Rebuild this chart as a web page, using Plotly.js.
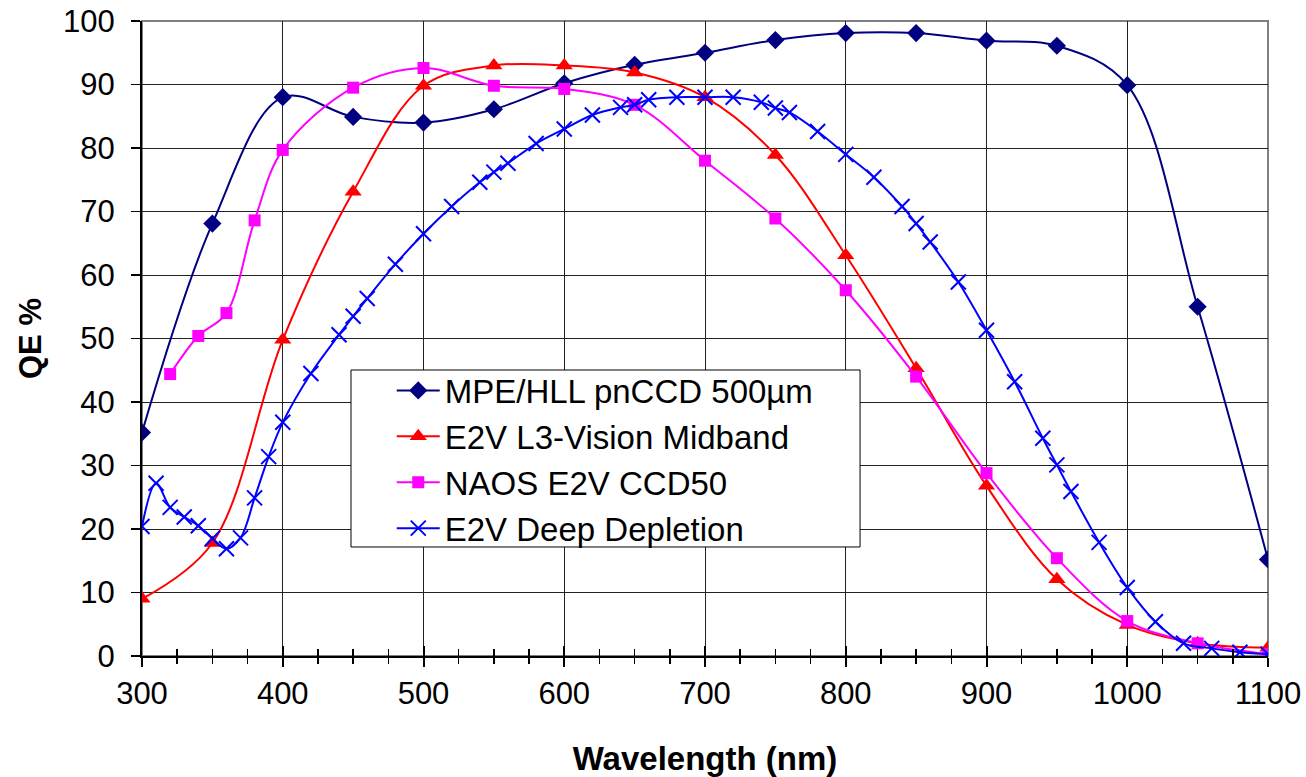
<!DOCTYPE html>
<html>
<head>
<meta charset="utf-8">
<script src="https://cdn.plot.ly/plotly-3.0.1.min.js"></script>
<style>html,body{margin:0;padding:0;background:#fff}#chart{width:1306px;height:777px}</style>
</head>
<body>
<div id="chart"></div>
<script>
// Wavelength grids (nm)
const wlMain = [300,350,400,450,500,550,600,650,700,750,800,850,900,950,1000,1050,1100];
const wlNaos = [320,340,360,380,400,450,500,550,600,650,700,750,800,850,900,950,1000,1050,1100];
const wlDeep = [300,310,320,330,340,350,360,370,380,390,400,420,440,450,460,480,500,520,540,550,560,580,600,620,640,650,660,680,700,720,740,750,760,780,800,820,840,850,860,880,900,920,940,950,960,980,1000,1020,1040,1060,1080,1100];

// QE values (%)
const qePnCCD = [35.2,68.1,88.0,84.9,84.0,86.1,90.2,93.1,95.0,97.0,98.1,98.1,96.9,96.1,89.9,55.0,15.2];
const qeL3Vision = [9.0,17.8,49.8,73.1,89.8,93.0,93.0,91.9,88.0,78.9,63.1,45.3,26.8,12.1,4.9,2.0,1.3];
const qeNaos = [44.4,50.4,54.0,68.6,79.7,89.5,92.6,89.8,89.3,86.8,78.0,68.9,57.6,44.0,28.8,15.4,5.5,2.0,0.3];
const qeDeep = [20.4,27.2,23.4,21.9,20.5,18.5,16.9,18.6,24.9,31.4,36.8,44.5,50.6,53.5,56.3,61.7,66.5,70.8,74.6,76.2,77.6,80.7,83.0,85.2,86.4,86.8,87.6,88.0,88.0,88.0,87.2,86.3,85.6,82.6,79.0,75.4,70.8,68.1,65.2,58.9,51.3,43.2,34.3,30.1,25.9,17.9,10.8,5.4,2.0,1.2,0.6,0.3];

const seriesNames = ["MPE/HLL pnCCD 500µm","E2V L3-Vision Midband","NAOS E2V CCD50","E2V Deep Depletion"];
const xTickVals = [300,400,500,600,700,800,900,1000,1100];
const yTickVals = [0,10,20,30,40,50,60,70,80,90,100];

const FONT = "Liberation Sans, Arial, sans-serif";

const traces = [
  {x: wlMain, y: qePnCCD, name: seriesNames[0], mode: "lines+markers",
   line: {color: "#000080", width: 2, shape: "spline", smoothing: 1},
   marker: {symbol: "diamond", size: 14, color: "#000080"}},
  {x: wlMain, y: qeL3Vision, name: seriesNames[1], mode: "lines+markers",
   line: {color: "#FF0000", width: 2, shape: "spline", smoothing: 1},
   marker: {symbol: "triangle-up", size: 15, color: "#FF0000"}},
  {x: wlNaos, y: qeNaos, name: seriesNames[2], mode: "lines+markers",
   line: {color: "#FF00FF", width: 2, shape: "spline", smoothing: 1},
   marker: {symbol: "square", size: 12, color: "#FF00FF"}},
  {x: wlDeep, y: qeDeep, name: seriesNames[3], mode: "lines+markers",
   line: {color: "#0000FF", width: 2, shape: "spline", smoothing: 1},
   marker: {symbol: "x-thin", size: 15, color: "#0000FF", line: {color: "#0000FF", width: 2}}},
  {x: [null], y: [null], xaxis: "x2", showlegend: false, hoverinfo: "skip", mode: "markers"}
];

const layout = {
  width: 1306, height: 777,
  margin: {l: 142, r: 38, t: 21, b: 121},
  paper_bgcolor: "#fff", plot_bgcolor: "#fff",
  font: {family: FONT, color: "#000", size: 31},
  showlegend: true,
  legend: {x: 0.2218, y: 0.4622, xanchor: "left", yanchor: "top",
           bgcolor: "rgba(0,0,0,0)", borderwidth: 0,
           font: {family: FONT, size: 33, color: "#000"}, tracegroupgap: 0,
           itemwidth: 43},
  xaxis: {range: [300, 1100], tickvals: xTickVals, ticktext: xTickVals.map(String),
          showgrid: true, gridcolor: "#222", gridwidth: 1, zeroline: false,
          showline: true, linecolor: "#000", linewidth: 2,
          ticks: "outside", ticklen: 9, tickwidth: 2, tickcolor: "#000",
          minor: {dtick: 25, tick0: 300, ticks: "outside", ticklen: 6, tickwidth: 1.5, tickcolor: "#000", showgrid: false},
          tickfont: {family: FONT, size: 31}, ticklabelstandoff: 0,
          title: {text: "<b>Wavelength (nm)</b>", font: {family: FONT, size: 33}, standoff: 44}},
  xaxis2: {range: [300, 1100], overlaying: "x", anchor: "y", side: "bottom", showgrid: false, zeroline: false,
           showticklabels: false, tickvals: xTickVals,
           ticks: "inside", ticklen: 10, tickwidth: 2, tickcolor: "#000",
           minor: {dtick: 25, tick0: 300, ticks: "inside", ticklen: 7, tickwidth: 1.5, tickcolor: "#000", showgrid: false}},
  yaxis: {range: [0, 100], tickvals: yTickVals, ticktext: yTickVals.map(String),
          showgrid: true, gridcolor: "#222", gridwidth: 1, zeroline: false,
          showline: true, linecolor: "#000", linewidth: 2,
          ticks: "outside", ticklen: 9, tickwidth: 1.5, tickcolor: "#000",
          tickfont: {family: FONT, size: 31}, ticklabelstandoff: 10,
          title: {text: "<b>QE %</b>", font: {family: FONT, size: 31}, standoff: 12}},
  shapes: [
    {type: "rect", xref: "paper", yref: "paper", x0: 0, x1: 1, y0: 0, y1: 1,
     line: {color: "#808080", width: 2}, layer: "below"},
    {type: "rect", xref: "paper", yref: "paper", x0: 0.1856, x1: 0.6377, y0: 0.1717, y1: 0.4504,
     line: {color: "#000", width: 1}, fillcolor: "#fff", layer: "above"}
  ]
};

Plotly.newPlot("chart", traces, layout, {staticPlot: true, displayModeBar: false});
</script>
</body>
</html>
